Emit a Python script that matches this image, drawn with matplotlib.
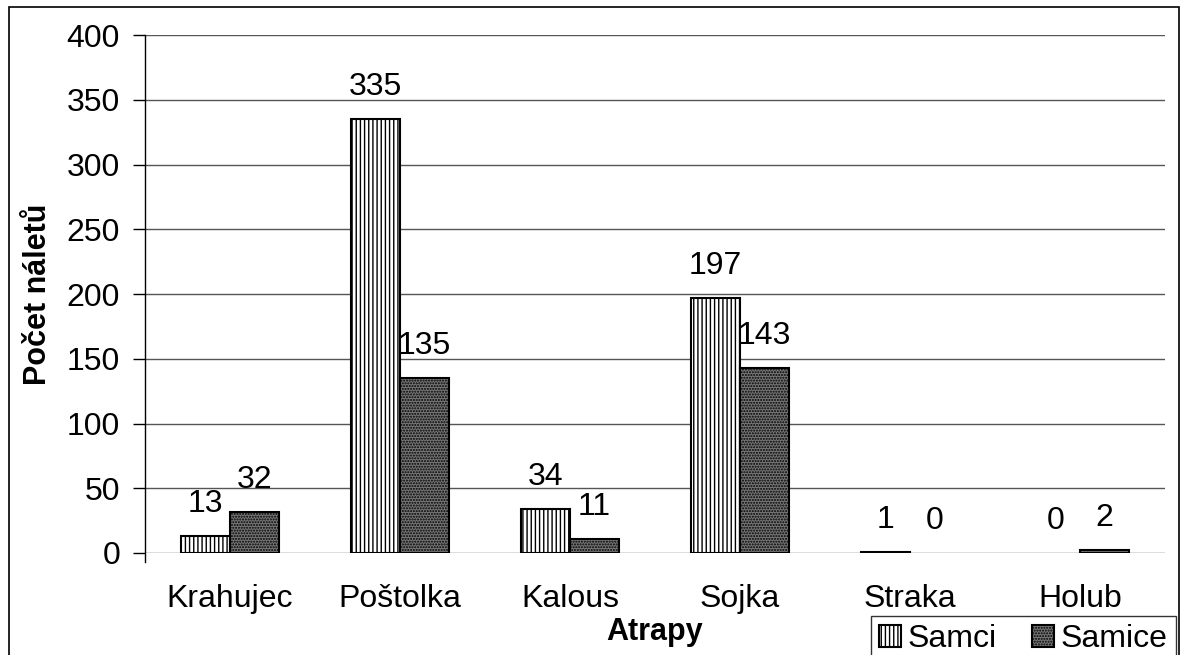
import numpy as np
import matplotlib
matplotlib.use("Agg")
import matplotlib.pyplot as plt
from matplotlib.patches import Rectangle

plt.rcParams['font.family'] = ['Liberation Sans', 'DejaVu Sans']
plt.rcParams['hatch.linewidth'] = 1.0

categories = ["Krahujec", "Poštolka", "Kalous", "Sojka", "Straka", "Holub"]
samci = [13, 335, 34, 197, 1, 0]
samice = [32, 135, 11, 143, 0, 2]
yticks = [0, 50, 100, 150, 200, 250, 300, 350, 400]

FS = 23

fig = plt.figure(figsize=(11.82, 6.55), dpi=100)
ax = fig.add_axes([145 / 1182, 1 - 553 / 655, 1020 / 1182, 518 / 655])

x = np.arange(len(categories))
w = 0.29
b1 = ax.bar(x - w / 2, samci, w, facecolor="white", edgecolor="black",
            hatch="||||", linewidth=1.5, label="Samci", zorder=3)
b2 = ax.bar(x + w / 2, samice, w, facecolor="#777777", edgecolor="black",
            hatch="......", linewidth=1.5, label="Samice", zorder=3)

for bars, vals in ((b1, samci), (b2, samice)):
    for r, v in zip(bars, vals):
        if v == 0:
            r.set_linewidth(0)
        ax.annotate(str(v), (r.get_x() + r.get_width() / 2, v),
                    xytext=(0, 23), textcoords="offset points",
                    ha="center", va="center", fontsize=FS)

ax.set_xlim(-0.5, len(categories) - 0.5)
ax.set_ylim(0, 400)
ax.set_yticks(yticks)
ax.yaxis.grid(True, color="#555555", linewidth=1)
ax.set_axisbelow(True)
ax.tick_params(axis="y", labelsize=FS, length=9, width=1, pad=9)
ax.tick_params(axis="x", labelsize=FS, length=0, pad=22)
ax.set_xticks(x)
ax.set_xticklabels(categories)
for s in ("top", "right", "bottom"):
    ax.spines[s].set_visible(False)
ax.spines["left"].set_linewidth(1)
ax.spines["left"].set_bounds(-7, 400)
ax.set_ylim(0, 400)

ax.set_ylabel("Počet náletů", fontsize=FS - 1, fontweight="bold", labelpad=10)
fig.text(655 / 1182, 1 - 632 / 655, "Atrapy", fontsize=FS - 1, fontweight="bold",
         ha="center", va="center")

leg = fig.legend(loc="upper left", bbox_to_anchor=(871 / 1182, 1 - 616 / 655),
                 ncol=2, fontsize=FS, frameon=True, fancybox=False,
                 handlelength=0.7, handleheight=0.7, handletextpad=0.2,
                 columnspacing=1.1, borderpad=0.25, borderaxespad=0)
leg.get_frame().set_edgecolor("black")
leg.get_frame().set_linewidth(1)

# outer figure border
fig.patches.append(Rectangle((9 / 1182, -0.02), 1170 / 1182, 1.02 - 7 / 655,
                             transform=fig.transFigure, fill=False,
                             edgecolor="black", linewidth=1.2))

fig.savefig("out.png", dpi=100)
